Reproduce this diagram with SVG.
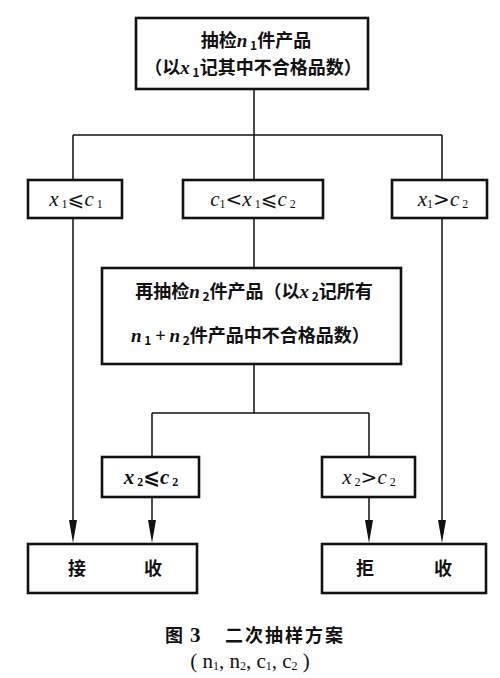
<svg xmlns="http://www.w3.org/2000/svg" width="500" height="678" viewBox="0 0 500 678">
<style>
.box{fill:#fff;stroke:#111;stroke-width:2.6}
.ln{fill:none;stroke:#111;stroke-width:1.5}
.cj{font-family:"Noto Sans CJK SC","Noto Sans",sans-serif;font-size:18px;font-weight:700;fill:#111}
.m{font-family:"Liberation Serif",serif;font-style:italic;font-size:21px;fill:#111}
.mb{font-family:"Liberation Serif",serif;font-style:italic;font-weight:700;font-size:19px}
.s{font-size:12px;font-style:normal}
.le{font-family:"DejaVu Sans",sans-serif;font-style:normal;font-size:20px}
.cap{font-family:"Noto Sans CJK SC",sans-serif;font-size:18px;font-weight:700;fill:#111}
.capm{font-family:"Liberation Serif",serif;font-size:21px;fill:#111}
</style>
<g id="connectors">
<path class="ln" d="M254,90 V135 M73,135 H442 M73,135 V180 M254,135 V180 M442,135 V179"/>
<path class="ln" d="M254,219 V268"/>
<path class="ln" d="M254,364 V413 M152,413 H369 M152,413 V457 M369,413 V457"/>
<path class="ln" d="M73,219 V520"/>
<path d="M69,520 L77,520 L73,543 Z" fill="#111"/>
<path class="ln" d="M152,497 V520"/>
<path d="M148,520 L156,520 L152,543 Z" fill="#111"/>
<path class="ln" d="M369,497 V520"/>
<path d="M365,520 L373,520 L369,543 Z" fill="#111"/>
<path class="ln" d="M442,219 V520"/>
<path d="M438,520 L446,520 L442,543 Z" fill="#111"/>
</g>
<g id="n1">
<rect class="box" x="136" y="18" width="232" height="71"/>
<text class="cj" x="256" y="47" text-anchor="middle">抽检<tspan class="mb">n</tspan><tspan class="s" dy="3"> 1</tspan><tspan dy="-3">件产品</tspan></text>
<text class="cj" x="253" y="74" text-anchor="middle">（以<tspan class="mb">x</tspan><tspan class="s" dy="3"> 1</tspan><tspan dy="-3">记其中不合格品数）</tspan></text>
</g>
<g id="b1">
<rect class="box" x="28" y="180" width="94" height="38"/>
<text class="m" x="76" y="206" text-anchor="middle">x<tspan class="s" dy="2"> 1</tspan><tspan class="le" dy="-2">⩽</tspan>c<tspan class="s" dy="2"> 1</tspan></text>
</g>
<g id="b2">
<rect class="box" x="183" y="180" width="140" height="38"/>
<text class="m" x="253" y="206" text-anchor="middle">c<tspan class="s" dy="2">1</tspan><tspan class="le" dy="-2">&lt;</tspan>x<tspan class="s" dy="2"> 1</tspan><tspan class="le" dy="-2">⩽</tspan>c<tspan class="s" dy="2"> 2</tspan></text>
</g>
<g id="b3">
<rect class="box" x="392" y="180" width="95" height="38"/>
<text class="m" x="443" y="206" text-anchor="middle">x<tspan class="s" dy="2">1</tspan><tspan class="le" dy="-2">&gt;</tspan>c<tspan class="s" dy="2"> 2</tspan></text>
</g>
<g id="n2">
<rect class="box" x="102" y="268" width="299" height="96"/>
<text class="cj" x="254" y="298" text-anchor="middle">再抽检<tspan class="mb">n</tspan><tspan class="s" dy="3"> 2</tspan><tspan dy="-3">件产品（以</tspan><tspan class="mb">x</tspan><tspan class="s" dy="3"> 2</tspan><tspan dy="-3">记所有</tspan></text>
<text class="cj" x="131" y="342"><tspan class="mb">n</tspan><tspan class="s" dy="3"> 1</tspan><tspan dy="-3" font-weight="400"> + </tspan><tspan class="mb">n</tspan><tspan class="s" dy="3"> 2</tspan><tspan dy="-3">件产品中不合格品数）</tspan></text>
</g>
<g id="b4">
<rect class="box" x="102" y="457" width="97" height="40"/>
<text class="m" x="151" y="484" text-anchor="middle" font-weight="700">x<tspan class="s" dy="2"> 2</tspan><tspan class="le" dy="-2">⩽</tspan>c<tspan class="s" dy="2"> 2</tspan></text>
</g>
<g id="b5">
<rect class="box" x="322" y="457" width="93" height="40"/>
<text class="m" x="369" y="484" text-anchor="middle">x<tspan class="s" dy="2"> 2</tspan><tspan class="le" dy="-2">&gt;</tspan>c<tspan class="s" dy="2"> 2</tspan></text>
</g>
<g id="accept">
<rect class="box" x="28" y="544" width="169" height="49"/>
<text class="cj" x="77" y="575" text-anchor="middle">接</text>
<text class="cj" x="153" y="575" text-anchor="middle">收</text>
</g>
<g id="reject">
<rect class="box" x="322" y="544" width="164" height="49"/>
<text class="cj" x="365" y="575" text-anchor="middle">拒</text>
<text class="cj" x="443" y="575" text-anchor="middle">收</text>
</g>
<g id="caption">
<text class="cap" x="165" y="642">图<tspan class="capm" x="190" font-weight="700">3</tspan><tspan x="225" letter-spacing="2">二次抽样方案</tspan></text>
<text class="capm" x="250" y="668" text-anchor="middle">( n<tspan class="s" dy="2">1</tspan><tspan dy="-2">, n</tspan><tspan class="s" dy="2">2</tspan><tspan dy="-2">, c</tspan><tspan class="s" dy="2">1</tspan><tspan dy="-2">, c</tspan><tspan class="s" dy="2">2</tspan><tspan dy="-2"> )</tspan></text>
</g>
</svg>
